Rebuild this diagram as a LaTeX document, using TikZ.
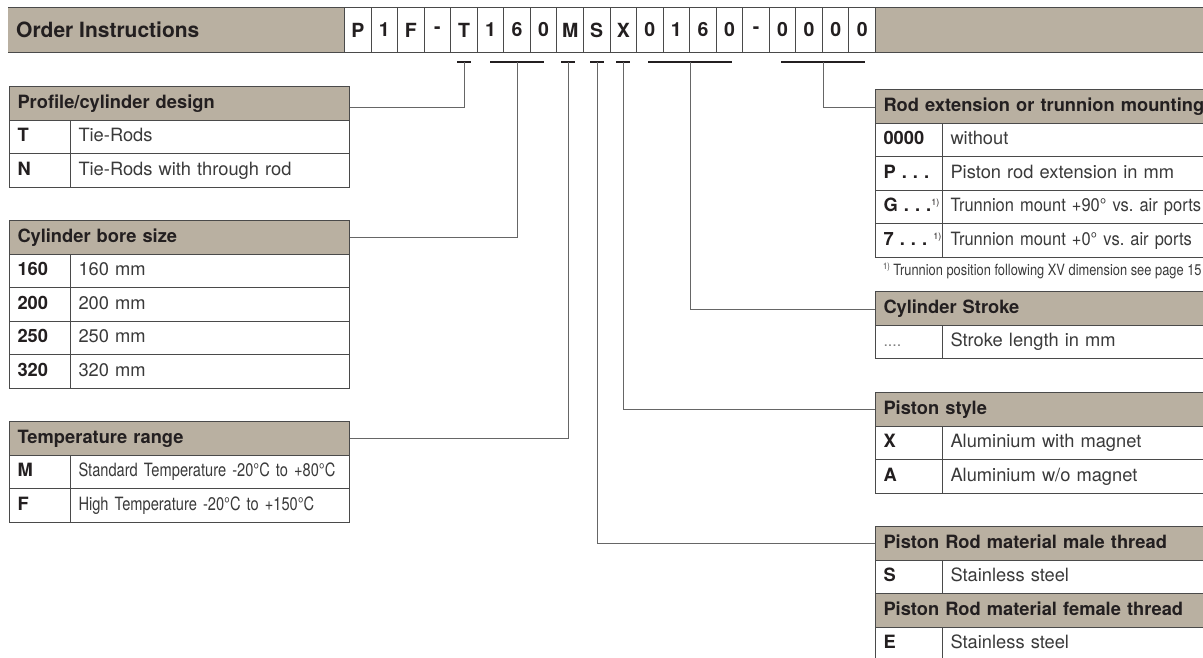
\documentclass[tikz,border=0pt]{standalone}
\usepackage{fontspec}
\setmainfont{TeX Gyre Heros}
\newfontfamily\condfont[FakeStretch=0.8]{TeX Gyre Heros}
\newfontfamily\trunfont[FakeStretch=0.9]{TeX Gyre Heros}
\newfontfamily\notefont[FakeStretch=0.83]{TeX Gyre Heros}
\definecolor{beige}{HTML}{B9B0A1}
\definecolor{edge}{HTML}{4A4A4A}
\definecolor{ink}{HTML}{231F20}
\definecolor{body}{HTML}{3A3A3A}
\definecolor{linkgray}{HTML}{666666}
\frenchspacing
\begin{document}
\begin{tikzpicture}[x=1pt,y=-1pt,
  box/.style={draw=edge,line width=1pt,anchor=north west,minimum height=33.5pt,inner xsep=8pt,inner ysep=0pt,align=left,text height=13pt,text depth=3.5pt},
  hdr/.style={box,fill=beige,text width=324pt,font=\fontsize{18.3}{20}\selectfont\bfseries,text=ink},
  rhdr/.style={hdr,text width=345pt},
  lcode/.style={box,fill=white,text width=45pt,font=\fontsize{18.3}{20}\selectfont\bfseries,text=ink},
  ltext/.style={box,fill=white,text width=263pt,font=\fontsize{18.3}{20}\selectfont,text=body},
  lcond/.style={ltext,font=\condfont\fontsize{18.3}{20}\selectfont},
  rcode/.style={box,fill=white,text width=51pt,font=\fontsize{18.3}{20}\selectfont\bfseries,text=ink},
  rtext/.style={box,fill=white,text width=280pt,font=\fontsize{18.3}{20}\selectfont,text=body},
  rcond/.style={rtext,font=\trunfont\fontsize{18.3}{20}\selectfont},
  cell/.style={draw=edge,line width=1pt,fill=white,anchor=north west,minimum width=26.55pt,minimum height=45pt,inner sep=0pt,font=\fontsize{19.5}{20}\selectfont\bfseries,text=ink},
  codebar/.style={draw=ink,line width=2pt},
  link/.style={draw=linkgray,line width=1pt}
]
\useasboundingbox (0,0) rectangle (1203,657);
\clip (0,0) rectangle (1203,657);
% title bar with the order code
\fill[beige] (8,7) rectangle (344,52);
\fill[beige] (875,7) rectangle (1203,52);
\draw[edge,line width=1pt] (8,7)--(1203,7) (8,52)--(1203,52);
\node[anchor=west,inner sep=0pt,font=\fontsize{21}{24}\selectfont\bfseries,text=ink] (title) at (16,30) {Order Instructions};
\foreach \c [count=\i from 0] in {P,1,F,-,T,1,6,0,M,S,X,0,1,6,0,-,0,0,0,0}
  \node[cell] (c\i) at ({344+26.55*\i},7) {\c};
% markers under the code
\coordinate (kT) at (464,62);
\coordinate (kB) at (517,62);
\coordinate (kM) at (568,62);
\coordinate (kS) at (597,62);
\coordinate (kX) at (623,62);
\coordinate (kL) at (690,62);
\coordinate (kR) at (823,62);
\draw[codebar] ([xshift=-7pt]kT)--([xshift=7pt]kT);
\draw[codebar] ([xshift=-27pt]kB)--([xshift=27pt]kB);
\draw[codebar] ([xshift=-7pt]kM)--([xshift=7pt]kM);
\draw[codebar] ([xshift=-7pt]kS)--([xshift=7pt]kS);
\draw[codebar] ([xshift=-7pt]kX)--([xshift=7pt]kX);
\draw[codebar] ([xshift=-42pt]kL)--([xshift=42pt]kL);
\draw[codebar] ([xshift=-42pt]kR)--([xshift=42pt]kR);
% left tables
\node[hdr] (hProfile) at (9,86) {Profile/cylinder design};
\node[lcode] (pT) at (9,119.5) {T};
\node[ltext] (pTt) at (70,119.5) {Tie-Rods};
\node[lcode] (pN) at (9,153) {N};
\node[ltext] (pNt) at (70,153) {Tie-Rods with through rod};
\node[hdr] (hBore) at (9,220) {Cylinder bore size};
\node[lcode] (b160) at (9,253.5) {160};
\node[ltext] (b160t) at (70,253.5) {160 mm};
\node[lcode] (b200) at (9,287) {200};
\node[ltext] (b200t) at (70,287) {200 mm};
\node[lcode] (b250) at (9,320.5) {250};
\node[ltext] (b250t) at (70,320.5) {250 mm};
\node[lcode] (b320) at (9,354) {320};
\node[ltext] (b320t) at (70,354) {320 mm};
\node[hdr] (hTemp) at (9,421) {Temperature range};
\node[lcode] (tM) at (9,454.5) {M};
\node[lcond] (tMt) at (70,454.5) {\mbox{Standard Temperature -20°C to +80°C}};
\node[lcode] (tF) at (9,488) {F};
\node[lcond] (tFt) at (70,488) {\mbox{High Temperature -20°C to +150°C}};
% right tables
\node[rhdr] (hRod) at (875,89) {Rod extension or trunnion mounting};
\node[rcode] (r0) at (875,122.5) {0000};
\node[rtext] (r0t) at (942,122.5) {without};
\node[rcode] (rP) at (875,156) {P . . .};
\node[rtext] (rPt) at (942,156) {Piston rod extension in mm};
\node[rcode] (rG) at (875,189.5) {\mbox{G . . .{\mdseries\fontsize{9}{9}\selectfont\raisebox{6pt}{1)}}}};
\node[rcond] (rGt) at (942,189.5) {\mbox{Trunnion mount +90° vs. air ports}};
\node[rcode] (r7) at (875,223) {\mbox{7 . . . {\mdseries\fontsize{9}{9}\selectfont\raisebox{6pt}{1)}}}};
\node[rcond] (r7t) at (942,223) {\mbox{Trunnion mount +0° vs. air ports}};
\node[anchor=west,inner sep=0pt,font=\notefont\fontsize{15.5}{17}\selectfont,text=body] (note) at (883,271) {{\fontsize{9}{9}\selectfont\raisebox{6pt}{1)}} Trunnion position following XV dimension see page 15};
\node[rhdr] (hStroke) at (875,291) {Cylinder Stroke};
\node[rcode,font=\fontsize{16}{18}\selectfont,text=gray] (sL) at (875,324.5) {....};
\node[rtext] (sLt) at (942,324.5) {Stroke length in mm};
\node[rhdr] (hPiston) at (875,392) {Piston style};
\node[rcode] (pX) at (875,425.5) {X};
\node[rtext] (pXt) at (942,425.5) {Aluminium with magnet};
\node[rcode] (pA) at (875,459) {A};
\node[rtext] (pAt) at (942,459) {Aluminium w/o magnet};
\node[rhdr] (hMale) at (875,526) {Piston Rod material male thread};
\node[rcode] (mS) at (875,559.5) {S};
\node[rtext] (mSt) at (942,559.5) {Stainless steel};
\node[rhdr] (hFemale) at (875,593) {Piston Rod material female thread};
\node[rcode] (fE) at (875,626.5) {E};
\node[rtext] (fEt) at (942,626.5) {Stainless steel};
% connectors
\draw[link] (kT) |- ([yshift=-4.5pt]hProfile.east);
\draw[link] (kB) |- (hBore.east);
\draw[link] (kM) |- (hTemp.east);
\draw[link] (kS) |- (hMale.west);
\draw[link] (kX) |- (hPiston.west);
\draw[link] (kL) |- ([yshift=-1pt]hStroke.west);
\draw[link] (kR) |- ([yshift=-1.5pt]hRod.west);
\end{tikzpicture}
\end{document}
